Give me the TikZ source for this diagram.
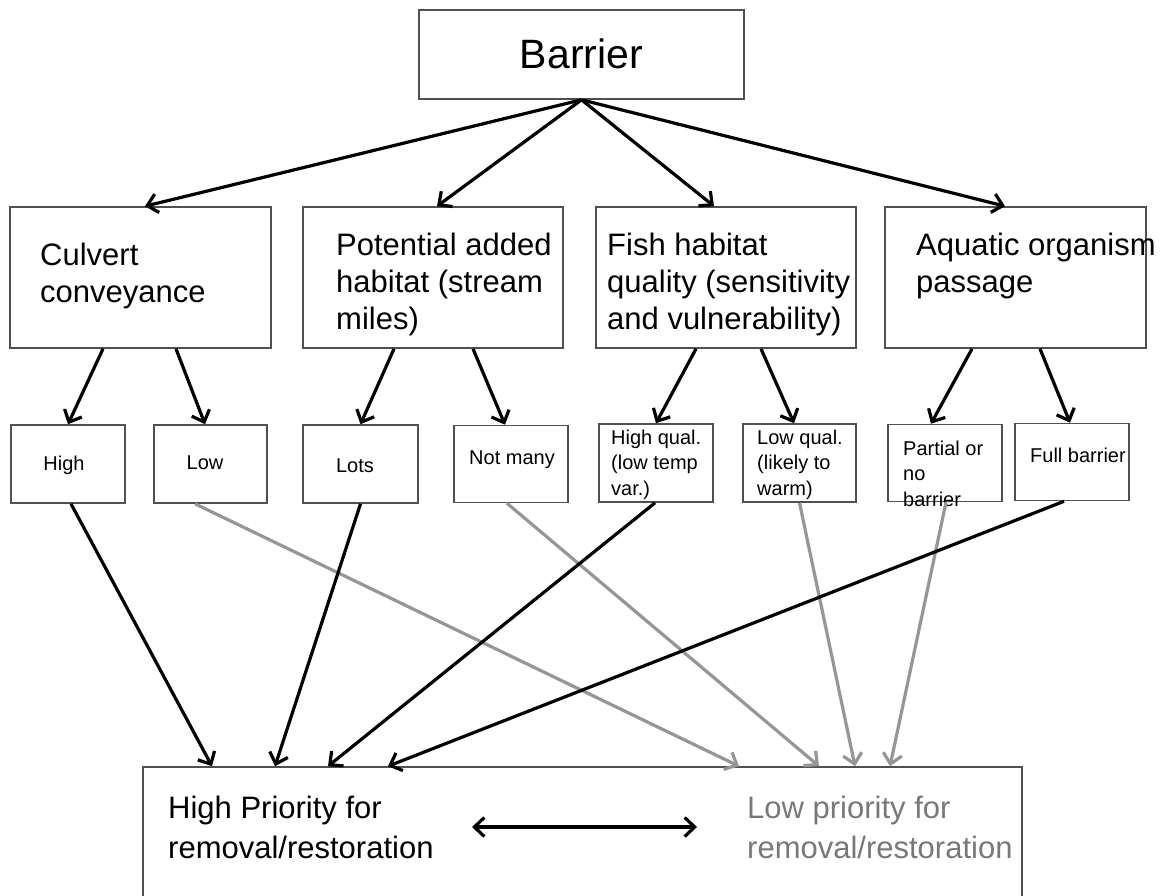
\documentclass[tikz,border=0pt]{standalone}
\usepackage{fontspec}
\setmainfont{Liberation Sans}
\usetikzlibrary{arrows.meta,calc}
\definecolor{boxgray}{RGB}{80,80,80}
\definecolor{arrgray}{RGB}{150,150,150}
\definecolor{txtgray}{RGB}{120,120,120}
\begin{document}
\begin{tikzpicture}[x=1pt,y=-1pt,
  box/.style={draw=boxgray,line width=1.6pt,inner sep=0pt,fill=white},
  tipb/.tip={Straight Barb[length=10pt,width=19pt]},
  blk/.style={draw=black,line width=3.2pt,-tipb},
  gry/.style={draw=arrgray,line width=3.2pt,-tipb},
  lblb/.style={font=\fontsize{41}{48}\selectfont,inner sep=0pt,anchor=base},
  lblm/.style={font=\fontsize{31}{37}\selectfont,inner sep=0pt,align=left,anchor=base west},
  lbll/.style={font=\fontsize{31}{40}\selectfont,inner sep=0pt,align=left,anchor=base west},
  lbls/.style={font=\fontsize{20}{25.5}\selectfont,inner sep=0pt,align=left,anchor=base west},
  lblc/.style={font=\fontsize{20}{25.5}\selectfont,inner sep=0pt,anchor=base},
]
\useasboundingbox (0,0) rectangle (1166,895);
\clip (0,0) rectangle (1166,895);
\fill[white] (0,0) rectangle (1166,895);

% boxes
\node[box,minimum width=325pt,minimum height=89pt] (bar) at (581.5,54.5) {};
\node[box,minimum width=261pt,minimum height=141pt] (cul) at (140.5,277.5) {};
\node[box,minimum width=260pt,minimum height=141pt] (pot) at (433,277.5) {};
\node[box,minimum width=260pt,minimum height=141pt] (fish) at (726,277.5) {};
\node[box,minimum width=261pt,minimum height=141pt] (aqu) at (1015.5,277.5) {};

\node[box,minimum width=114pt,minimum height=78pt] (high) at (68,464) {};
\node[box,minimum width=113pt,minimum height=78pt] (low) at (210.5,464) {};
\node[box,minimum width=115pt,minimum height=78pt] (lots) at (360.5,464) {};
\node[box,minimum width=114pt,minimum height=77pt] (nm) at (511,464) {};
\node[box,minimum width=114pt,minimum height=78pt] (hq) at (656,463) {};
\node[box,minimum width=113pt,minimum height=78pt] (lq) at (799.5,463) {};
\node[box,minimum width=114pt,minimum height=77pt] (part) at (945,463) {};
\node[box,minimum width=114pt,minimum height=77pt] (full) at (1072,462) {};

\node[box,minimum width=879pt,minimum height=200pt] (bot) at (582.5,867) {};

% texts (multi-line nodes: base anchor is on the last line)
\node[lblb] (barT) at (581.5,68) {Barrier};
\node[lblm] (culT) at (40,302) {Culvert\\conveyance};
\node[lblm] (potT) at (336,329) {Potential added\\habitat (stream\\miles)};
\node[lblm] (fishT) at (607,329) {Fish habitat\\quality (sensitivity\\and vulnerability)};
\node[lblm] (aquT) at (916,292) {Aquatic organism\\passage};

\node[lblc] (highT) at (64,470) {High};
\node[lblc] (lowT) at (205,469) {Low};
\node[lblc] (lotsT) at (355,472) {Lots};
\node[lblc] (nmT) at (512,464) {Not many};
\node[lbls] (hqT) at (611,495) {High qual.\\(low temp\\var.)};
\node[lbls] (lqT) at (757,495) {Low qual.\\(likely to\\warm)};
\node[lbls] (partT) at (903,506) {Partial or\\no\\barrier};
\node[lbls] (fullT) at (1030,462) {Full barrier};

\node[lbll] (hpT) at (168,858) {High Priority for\\removal/restoration};
\node[lbll,text=txtgray] (lpT) at (747,858) {Low priority for\\removal/restoration};

% barrier to criteria
\draw[blk] (bar.south) -- ($(cul.north)+(4.5,0)$);
\draw[blk] (bar.south) -- ($(pot.north)+(4,0)$);
\draw[blk] (bar.south) -- ($(fish.north)+(-12,0)$);
\draw[blk] (bar.south) -- ($(aqu.north)+(-10.5,0)$);

% criteria to options
\draw[blk] ($(cul.south)+(-37.5,0)$) -- (high.north);
\draw[blk] ($(cul.south)+(35.5,0)$) -- ($(low.north)+(-5.5,0)$);
\draw[blk] ($(pot.south)+(-39,0)$) -- (lots.north);
\draw[blk] ($(pot.south)+(40,0)$) -- ($(nm.north)+(-6,0)$);
\draw[blk] ($(fish.south)+(-30,0)$) -- (hq.north);
\draw[blk] ($(fish.south)+(35,0)$) -- ($(lq.north)+(-5.5,0)$);
\draw[blk] ($(aqu.south)+(-43.5,0)$) -- ($(part.north)+(-14,0)$);
\draw[blk] ($(aqu.south)+(24.5,0)$) -- ($(full.north)+(-2,0)$);

% options to priority
\draw[gry] ($(low.south)+(-15.5,0)$) -- ($(bot.north)+(156.5,0)$);
\draw[gry] ($(nm.south)+(-4,0)$) -- ($(bot.north)+(236.5,0)$);
\draw[gry] (lq.south) -- ($(bot.north)+(272.5,0)$);
\draw[gry] ($(part.south)+(1,0)$) -- ($(bot.north)+(307.5,0)$);
\draw[blk] ($(high.south)+(3,0)$) -- ($(bot.north)+(-370.5,0)$);
\draw[blk] (lots.south) -- ($(bot.north)+(-307.5,0)$);
\draw[blk] ($(hq.south)+(-1,0)$) -- ($(bot.north)+(-254.5,0)$);
\draw[blk] ($(full.south)+(-8,0)$) -- ($(bot.north)+(-194.5,0)$);

% double arrow
\coordinate (dl) at (472,827);
\coordinate (dr) at (697,827);
\draw[blk,tipb-tipb] (dl) -- (dr);
\end{tikzpicture}
\end{document}
